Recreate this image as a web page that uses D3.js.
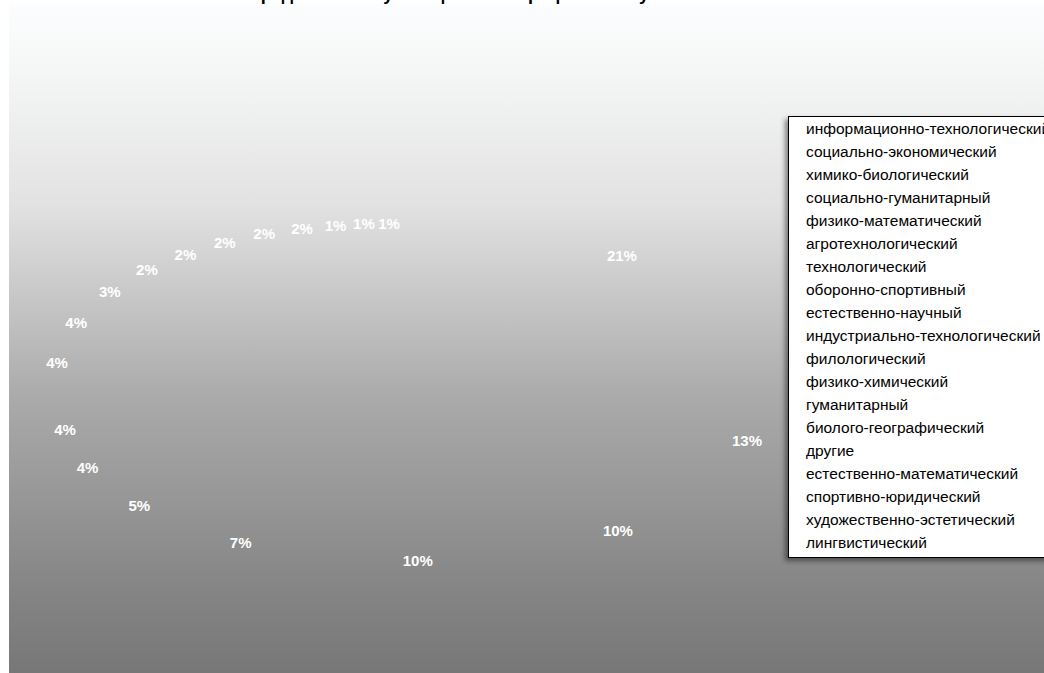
<!DOCTYPE html>
<html>
<head>
<meta charset="utf-8">
<script src="https://cdn.jsdelivr.net/npm/d3@7"></script>
<style>
  body { margin: 0; background: #fff; overflow: hidden; }
  svg { display: block; font-family: "Liberation Sans", Arial, sans-serif; }
</style>
</head>
<body>
<div id="chart"></div>
<script>
// Profiles of study, in the order of the legend (and of the slices, clockwise from 12 o'clock)
const categories = [
    "информационно-технологический",
    "социально-экономический",
    "химико-биологический",
    "социально-гуманитарный",
    "физико-математический",
    "агротехнологический",
    "технологический",
    "оборонно-спортивный",
    "естественно-научный",
    "индустриально-технологический",
    "филологический",
    "физико-химический",
    "гуманитарный",
    "биолого-географический",
    "другие",
    "естественно-математический",
    "спортивно-юридический",
    "художественно-эстетический",
    "лингвистический"
];
// Number of pupils per profile
const pupils = [214, 131, 101, 98, 72, 51, 44, 42, 40, 38, 29, 24, 22, 20, 19, 17, 14, 12, 11];
const title = "Распределение обучающихся по профилям обучения";

const width = 1044;
const height = 673;

const svg = d3.select("#chart")
    .append("svg")
    .attr("width", width)
    .attr("height", height)
    .attr("viewBox", "0 0 " + width + " " + height);

const defs = svg.append("defs");
// Background: light at the top going to grey at the bottom
const grad = defs.append("linearGradient")
    .attr("id", "bg")
    .attr("x1", 0).attr("y1", 0).attr("x2", 0).attr("y2", 1);
[[0, "#fcfdfe"], [0.09, "#f6f7f7"], [0.3, "#e2e2e2"], [0.59, "#aaaaaa"], [0.89, "#838383"], [1, "#777777"]]
    .forEach(s => grad.append("stop").attr("offset", s[0]).attr("stop-color", s[1]));

const shadow = defs.append("filter").attr("id", "shadow")
    .attr("x", "-10%").attr("y", "-10%").attr("width", "130%").attr("height", "130%");
shadow.append("feDropShadow")
    .attr("dx", -3).attr("dy", 3).attr("stdDeviation", 2.5)
    .attr("flood-color", "#000").attr("flood-opacity", 0.45);

svg.append("rect")
    .attr("x", 9).attr("y", 3)
    .attr("width", width - 9).attr("height", height - 3)
    .attr("fill", "url(#bg)");

// Title sits mostly above the visible area, only descenders show
svg.append("text")
    .attr("x", 460).attr("y", -0.5)
    .attr("text-anchor", "middle")
    .style("font-size", "18px")
    .style("font-weight", "bold")
    .attr("fill", "#000")
    .text(title);

// --------------------------------------
// Pie (tilted, 3D look) - slices themselves have no visible fill
const total = d3.sum(pupils);
const pie = d3.pie().sort(null).value(d => d).startAngle(0).endAngle(2 * Math.PI);
const arcs = pie(pupils);
const rx = 345;

const pieGroup = svg.append("g")
    .attr("transform", "translate(404,400) scale(1,0.46)");
pieGroup.selectAll("path")
    .data(arcs)
    .join("path")
    .attr("d", d3.arc().innerRadius(0).outerRadius(rx))
    .attr("fill", "transparent");

// label position on the ellipse; front half is pushed down by the pie depth
// and the back half is a bit fuller on the diagonals (perspective)
function labelPoint(a) {
    const front = Math.cos(a) < 0;
    const cx = front ? 408 : 401;
    const cy = front ? 413 : 386.5;
    const ry = front ? 148 : 162.5;
    const k = front ? 1 : 1 + 0.028 * Math.abs(Math.sin(2 * a));
    return [cx + k * rx * Math.sin(a), cy - k * ry * Math.cos(a)];
}

svg.append("g")
    .selectAll("text")
    .data(arcs)
    .join("text")
    .attr("x", d => labelPoint((d.startAngle + d.endAngle) / 2)[0])
    .attr("y", d => labelPoint((d.startAngle + d.endAngle) / 2)[1])
    .attr("text-anchor", "middle")
    .attr("dominant-baseline", "central")
    .attr("fill", "#fff")
    .style("font-size", "15px")
    .style("font-weight", "bold")
    .text(d => d3.format(".0%")(d.value / total));

// --------------------------------------
// Legend (text only, runs off the right edge)
const legend = svg.append("g");
legend.append("rect")
    .attr("x", 788.5).attr("y", 116.5)
    .attr("width", 290).attr("height", 441)
    .attr("fill", "#fff")
    .attr("stroke", "#000")
    .attr("stroke-width", 1)
    .attr("filter", "url(#shadow)");
const yLegend = d3.scalePoint().domain(categories).range([134, 548]);
legend.selectAll("text")
    .data(categories)
    .join("text")
    .attr("x", 806)
    .attr("y", d => yLegend(d))
    .attr("fill", "#000")
    .style("font-size", "15.5px")
    .text(d => d);
</script>
</body>
</html>
